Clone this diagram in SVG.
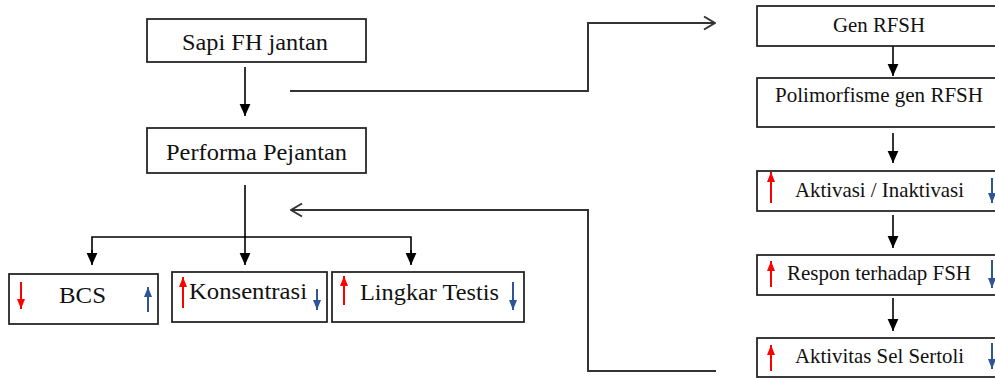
<svg xmlns="http://www.w3.org/2000/svg" width="995" height="378" viewBox="0 0 995 378">
<style>
.box{fill:#fff;stroke:#1a1a1a;stroke-width:1.7}
.t{fill:#111}
.l{font-size:24px}
.r{font-size:21px}
.ar{stroke:#000;stroke-width:1.6;fill:none;marker-end:url(#ah)}
.lc{stroke:#333;stroke-width:2;fill:none;marker-end:url(#chev)}
.red{stroke:#ff0000;stroke-width:2;fill:none;marker-end:url(#rh)}
.blue{stroke:#2f5597;stroke-width:2;fill:none;marker-end:url(#bh)}
</style>
<defs>
<marker id="ah" markerUnits="userSpaceOnUse" markerWidth="12" markerHeight="12" viewBox="0 0 10 10" refX="10" refY="5" orient="auto"><path d="M0,0.5 L10,5 L0,9.5 z" fill="#000"/></marker>
<marker id="rh" markerUnits="userSpaceOnUse" markerWidth="10" markerHeight="9" viewBox="0 0 10 9" refX="10" refY="4.5" orient="auto"><path d="M0,0.5 L10,4.5 L0,8.5 z" fill="#ff0000"/></marker>
<marker id="bh" markerUnits="userSpaceOnUse" markerWidth="10" markerHeight="9" viewBox="0 0 10 9" refX="10" refY="4.5" orient="auto"><path d="M0,0.5 L10,4.5 L0,8.5 z" fill="#2f5597"/></marker>
<marker id="chev" markerUnits="userSpaceOnUse" markerWidth="14" markerHeight="16" viewBox="0 0 14 16" refX="13" refY="8" orient="auto"><path d="M2,1.5 L13,8 L2,14.5" fill="none" stroke="#333" stroke-width="2"/></marker>
</defs>

<g id="connectors">
<line class="ar" x1="245" y1="67" x2="245" y2="116"/>
<line x1="245" y1="185" x2="245" y2="237" stroke="#000" stroke-width="1.6"/>
<path d="M92,264 V237 H411 V264" fill="none" stroke="#000" stroke-width="1.6"/>
<line class="ar" x1="92" y1="250" x2="92" y2="265"/>
<line class="ar" x1="245" y1="236" x2="245" y2="265"/>
<line class="ar" x1="411" y1="250" x2="411" y2="265"/>
<path class="lc" d="M290,91 H588 V23 H715"/>
<path class="lc" d="M716,371 H588 V210 H291"/>
<line class="ar" x1="893" y1="46" x2="893" y2="76"/>
<line class="ar" x1="893" y1="133" x2="893" y2="163"/>
<line class="ar" x1="893" y1="215" x2="893" y2="248"/>
<line class="ar" x1="893" y1="298" x2="893" y2="331"/>
</g>

<g font-family="Liberation Serif, Tinos, DejaVu Serif, Times New Roman, serif">
<g id="sapi">
<rect class="box" x="147" y="19" width="219" height="43"/>
<text class="t l" x="182" y="50" textLength="146" lengthAdjust="spacingAndGlyphs">Sapi FH jantan</text>
</g>
<g id="performa">
<rect class="box" x="147" y="128" width="219" height="45"/>
<text class="t l" x="166" y="160" textLength="181" lengthAdjust="spacingAndGlyphs">Performa Pejantan</text>
</g>
<g id="bcs">
<rect class="box" x="9" y="274" width="149" height="50"/>
<text class="t l" x="59" y="303" textLength="47" lengthAdjust="spacingAndGlyphs">BCS</text>
<line class="red" x1="21" y1="282" x2="21" y2="309"/>
<line class="blue" x1="148" y1="312" x2="148" y2="287"/>
</g>
<g id="konsentrasi">
<rect class="box" x="172" y="272" width="155" height="50"/>
<text class="t l" x="189" y="299" textLength="118" lengthAdjust="spacingAndGlyphs">Konsentrasi</text>
<line class="red" x1="183" y1="308" x2="183" y2="277"/>
<line class="blue" x1="317" y1="289" x2="317" y2="310"/>
</g>
<g id="lingkar">
<rect class="box" x="332" y="272" width="192" height="50"/>
<text class="t l" x="360" y="300" textLength="139" lengthAdjust="spacingAndGlyphs">Lingkar Testis</text>
<line class="red" x1="344" y1="305" x2="344" y2="276"/>
<line class="blue" x1="513" y1="282" x2="513" y2="310"/>
</g>

<g id="gen">
<rect class="box" x="757" y="6" width="272" height="40"/>
<text class="t r" x="833" y="32" textLength="92" lengthAdjust="spacingAndGlyphs">Gen RFSH</text>
</g>
<g id="polimorfisme">
<rect class="box" x="757" y="78" width="272" height="49"/>
<text class="t r" x="775" y="102" textLength="208" lengthAdjust="spacingAndGlyphs">Polimorfisme gen RFSH</text>
</g>
<g id="aktivasi">
<rect class="box" x="757" y="171" width="272" height="40"/>
<text class="t r" x="795" y="197" textLength="169" lengthAdjust="spacingAndGlyphs">Aktivasi / Inaktivasi</text>
<line class="red" x1="771" y1="203" x2="771" y2="172"/>
<line class="blue" x1="992" y1="178" x2="992" y2="203"/>
</g>
<g id="respon">
<rect class="box" x="757" y="255" width="272" height="40"/>
<text class="t r" x="787" y="280" textLength="184" lengthAdjust="spacingAndGlyphs">Respon terhadap FSH</text>
<line class="red" x1="771" y1="287" x2="771" y2="261"/>
<line class="blue" x1="992" y1="260" x2="992" y2="288"/>
</g>
<g id="sertoli">
<rect class="box" x="757" y="338" width="272" height="39"/>
<text class="t r" x="795" y="363" textLength="169" lengthAdjust="spacingAndGlyphs">Aktivitas Sel Sertoli</text>
<line class="red" x1="771" y1="371" x2="771" y2="345"/>
<line class="blue" x1="992" y1="343" x2="992" y2="369"/>
</g>
</g>
</svg>
